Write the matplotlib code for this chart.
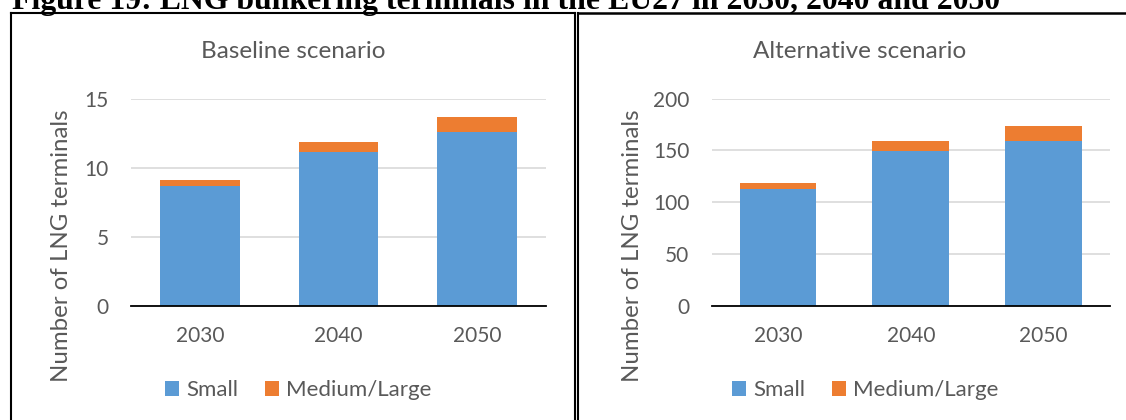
import matplotlib
matplotlib.use('Agg')
import matplotlib.pyplot as plt
from matplotlib.lines import Line2D
from matplotlib.patches import Patch

# ---- data ----
years = ['2030', '2040', '2050']
baseline_small = [8.67, 11.14, 12.6]
baseline_medium_large = [0.43, 0.72, 1.1]
alternative_small = [112.7, 149.2, 158.8]
alternative_medium_large = [5.6, 10.2, 14.8]
baseline_ticks = [0, 5, 10, 15]
alternative_ticks = [0, 50, 100, 150, 200]
panel_titles = ['Baseline scenario', 'Alternative scenario']
series_names = ['Small', 'Medium/Large']
y_label = 'Number of LNG terminals'
figure_title = 'Figure 19: LNG bunkering terminals in the EU27 in 2030, 2040 and 2050'

# ---- style ----
W, H = 1126, 420
BLUE = '#5B9BD5'
ORANGE = '#ED7D31'
TXT = '#595959'
GRID = '#D9D9D9'
FONT = 'Lato'
FS_TICK = 15
FS_TITLE = 17.5
FS_LABEL = 17.3
FS_LEG = 16

fig = plt.figure(figsize=(W / 100, H / 100), dpi=100)
fig.patch.set_facecolor('white')


def fx(x):
    return x / W


def fy(y):
    return 1 - y / H


def panel(x0, x1, y_top, y_zero, small, medium, ticks, title, title_x,
          ylabel_x, legend_x):
    ax = fig.add_axes([fx(x0), fy(y_zero), (x1 - x0) / W, (y_zero - y_top) / H])
    pos = list(range(len(years)))
    ax.bar(pos, small, width=0.578, color=BLUE, zorder=3, label=series_names[0])
    ax.bar(pos, medium, bottom=small, width=0.578, color=ORANGE, zorder=3,
           label=series_names[1])
    ax.set_xlim(-0.5, len(years) - 0.5)
    ax.set_ylim(ticks[0], ticks[-1])
    ax.set_yticks(ticks)
    ax.set_xticks(pos)
    ax.set_xticklabels(years)
    for s in ['top', 'right', 'left']:
        ax.spines[s].set_visible(False)
    ax.spines['bottom'].set_color('black')
    ax.spines['bottom'].set_linewidth(1.3)
    ax.spines['bottom'].set_zorder(4)
    ax.grid(axis='y', color=GRID, linewidth=1.2, zorder=0)
    ax.set_axisbelow(True)
    ax.tick_params(axis='both', length=0, labelsize=FS_TICK, labelcolor=TXT)
    ax.tick_params(axis='y', pad=16)
    ax.tick_params(axis='x', pad=14.5)
    for lab in ax.get_xticklabels() + ax.get_yticklabels():
        lab.set_fontfamily(FONT)
    ax.set_ylabel(y_label, fontsize=FS_LABEL, color=TXT, family=FONT, va='center')
    ax.yaxis.set_label_coords((ylabel_x - x0) / (x1 - x0),
                              (y_zero - 246) / (y_zero - y_top))
    fig.text(fx(title_x), fy(52), title, ha='center', va='center',
             fontsize=FS_TITLE, color=TXT, family=FONT)
    handles = [Patch(facecolor=BLUE, edgecolor='none'),
               Patch(facecolor=ORANGE, edgecolor='none')]
    fig.legend(handles, series_names, loc='center',
               bbox_to_anchor=(fx(legend_x), fy(390)), ncol=2, frameon=False,
               handlelength=0.65, handleheight=0.65, handletextpad=0.3,
               columnspacing=1.2, borderaxespad=0,
               prop={'family': FONT, 'size': FS_LEG}, labelcolor=TXT)
    return ax


panel(131, 546, 98.7, 305.7, baseline_small, baseline_medium_large,
      baseline_ticks, panel_titles[0], 293, 62, 298)
panel(711.7, 1110, 98.7, 305.7, alternative_small, alternative_medium_large,
      alternative_ticks, panel_titles[1], 860, 632, 865)

# ---- frame lines ----
def hline(y, x0, x1, lw=1.5):
    fig.add_artist(Line2D([fx(x0), fx(x1)], [fy(y), fy(y)], color='black',
                          linewidth=lw, transform=fig.transFigure))


def vline(x, y0, y1, lw=1.5):
    fig.add_artist(Line2D([fx(x), fx(x)], [fy(y0), fy(y1)], color='black',
                          linewidth=lw, transform=fig.transFigure))


hline(12.7, 10.7, 575.3)
hline(12.7, 578.3, W + 5, lw=1.8)
vline(10.7, 12.7, H + 5)
vline(575.3, 12.7, H + 5)
vline(578.3, 12.7, H + 5)

fig.text(fx(12), fy(9), figure_title, ha='left', va='baseline',
         fontsize=22.9, fontweight='bold', family='Liberation Serif', color='black')

fig.savefig('out.png', dpi=100, facecolor='white')
